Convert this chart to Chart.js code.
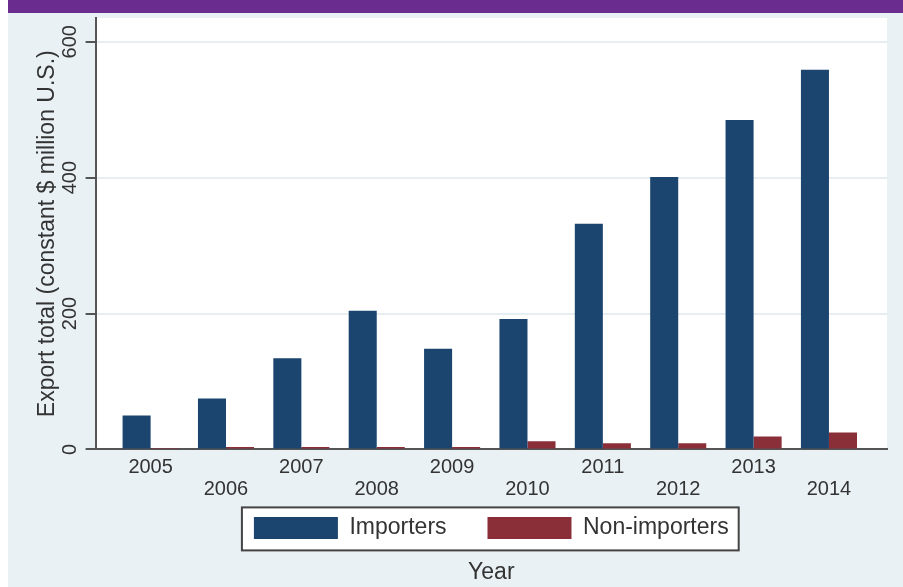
<!DOCTYPE html>
<html>
<head>
<meta charset="utf-8">
<script src="https://cdn.jsdelivr.net/npm/chart.js@4"></script>
<style>
  body { margin: 0; background: #fff; }
  #topbar { position: absolute; left: 8px; top: 0; width: 895px; height: 13px; background: #6a2c8f; }
  #wrap { position: absolute; left: 8px; top: 13px; width: 895px; height: 574px; background: #eaf1f4; }
</style>
</head>
<body>
<div id="topbar"></div>
<div id="wrap"><canvas id="chart"></canvas></div>
<script>
var years = ['2005', '2006', '2007', '2008', '2009', '2010', '2011', '2012', '2013', '2014'];
var importers = [50, 75, 134, 204, 148, 192, 332, 401, 485, 559];
var nonImporters = [0.5, 3.5, 3.5, 3.5, 3.5, 12, 9, 9, 19, 25];
var yTicks = [0, 200, 400, 600];

var textColor = '#333333';
var axisColor = '#555555';

// white plot area, and a white box with a border around the legend
var plotBox = {
  id: 'plotBox',
  beforeDraw: function(chart) {
    var ctx = chart.ctx, a = chart.chartArea;
    ctx.save();
    ctx.fillStyle = '#ffffff';
    ctx.fillRect(a.left, a.top, a.right - a.left, a.bottom - a.top);
    var r = legendRect(chart);
    if (r) ctx.fillRect(r.x, r.y, r.w, r.h);
    ctx.restore();
  },
  afterDraw: function(chart) {
    var r = legendRect(chart);
    if (!r) return;
    var ctx = chart.ctx;
    ctx.save();
    ctx.strokeStyle = '#444444';
    ctx.lineWidth = 2;
    ctx.strokeRect(r.x, r.y, r.w, r.h);
    ctx.restore();
  }
};

function legendRect(chart) {
  var hb = chart.legend && chart.legend.legendHitBoxes;
  if (!hb || !hb.length) return null;
  var left = hb[0].left, right = hb[hb.length - 1].left + hb[hb.length - 1].width;
  var top = hb[0].top, bottom = hb[0].top + hb[0].height;
  return { x: left - 12, y: top - 9, w: right - left + 22, h: bottom - top + 20 };
}

function pairs(values) {
  return values.map(function(v, i) { return { x: i, y: v }; });
}

new Chart(document.getElementById('chart'), {
  type: 'bar',
  data: {
    datasets: [
      { label: 'Importers', data: pairs(importers), backgroundColor: '#1b446e' },
      { label: 'Non-importers', data: pairs(nonImporters), backgroundColor: '#8a2f38' }
    ]
  },
  options: {
    responsive: true,
    maintainAspectRatio: false,
    animation: false,
    categoryPercentage: 0.744,
    barPercentage: 1,
    layout: { padding: { top: 5, right: 16, left: 2, bottom: 1 } },
    plugins: {
      tooltip: { enabled: false },
      legend: {
        position: 'bottom',
        fullSize: false,
        labels: {
          boxWidth: 84,
          boxHeight: 22,
          padding: 9,
          color: textColor,
          font: { family: 'Liberation Sans', size: 23 },
          generateLabels: function(chart) {
            var items = Chart.defaults.plugins.legend.labels.generateLabels(chart);
            // wider gap between the two keys than above the key row
            items[0].text += '     ';
            return items;
          }
        }
      },
      title: {
        display: true,
        text: 'Year',
        position: 'bottom',
        fullSize: false,
        color: textColor,
        padding: { top: 9, bottom: 0 },
        font: { family: 'Liberation Sans', size: 23, weight: 'normal' }
      }
    },
    scales: {
      x: {
        type: 'linear',
        offset: false,
        min: -0.73,
        max: 9.77,
        afterBuildTicks: function(axis) {
          axis.ticks = years.map(function(_, i) { return { value: i }; });
        },
        grid: { display: false, drawTicks: false },
        border: { display: true, color: axisColor, width: 2 },
        ticks: {
          padding: 7,
          maxRotation: 0,
          color: textColor,
          font: { family: 'Liberation Sans', size: 20, lineHeight: 1.1 },
          callback: function(v) {
            var i = Math.round(v);
            return i % 2 === 0 ? years[i] : ['', years[i]];
          }
        }
      },
      y: {
        min: 0,
        max: 635,
        afterBuildTicks: function(axis) {
          axis.ticks = yTicks.map(function(v) { return { value: v }; });
        },
        afterFit: function(scale) {
          scale.paddingTop = 0;
          scale.paddingBottom = 0;
        },
        grid: { color: '#e6eef2', lineWidth: 2, tickLength: 10, tickColor: axisColor, tickWidth: 2 },
        border: { display: true, color: axisColor, width: 2 },
        ticks: {
          padding: -2,
          minRotation: 90,
          maxRotation: 90,
          crossAlign: 'center',
          color: textColor,
          font: { family: 'Liberation Sans', size: 20 }
        },
        title: {
          display: true,
          text: 'Export total (constant $ million U.S.)',
          color: textColor,
          padding: { top: 24, bottom: 4 },
          font: { family: 'Liberation Sans', size: 23 }
        }
      }
    }
  },
  plugins: [plotBox]
});
</script>
</body>
</html>
